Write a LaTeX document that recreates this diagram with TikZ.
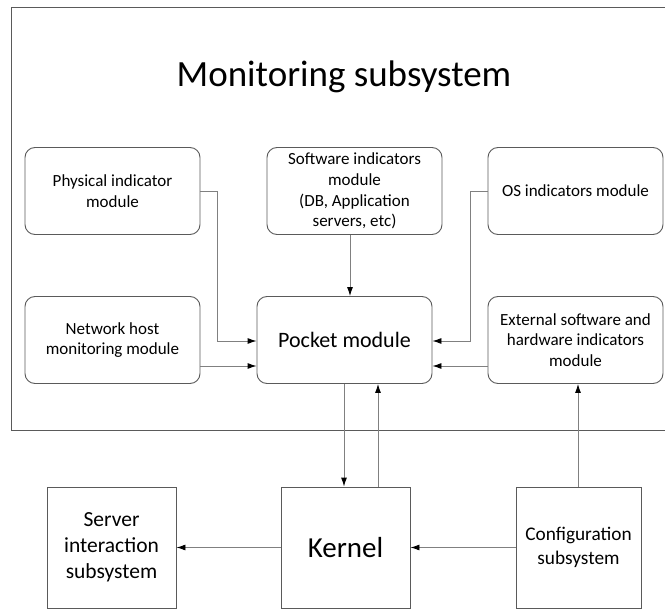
\documentclass[tikz,border=0pt]{standalone}
\usepackage{fontspec}
\setmainfont{Carlito}
\usetikzlibrary{arrows.meta}
\definecolor{boxgray}{HTML}{5A5A5A}
\definecolor{linegray}{HTML}{808080}
\tikzset{
  modbox/.style={draw=boxgray, line width=0.9pt, rounded corners=10pt, align=center,
    minimum width=175pt, minimum height=87pt, inner sep=2pt,
    font=\fontsize{17pt}{20.7pt}\selectfont},
  subbox/.style={draw=boxgray, line width=0.9pt, align=center,
    minimum width=129pt, minimum height=121pt, inner sep=2pt},
  arr/.style={draw=linegray, line width=0.9pt, -{Latex[length=9pt,width=6pt,black]}},
}
\begin{document}
\begin{tikzpicture}[x=1pt,y=-1pt]
\useasboundingbox (0,0) rectangle (665,613);
\draw[draw=boxgray, line width=1pt] (665,7) -- (11,7) -- (11,430) -- (665,430);
\node (title) at (344,77) {\fontsize{37pt}{44pt}\selectfont Monitoring subsystem};

\node[modbox] (phys) at (112.5,191) {Physical indicator\\module};
\node[modbox] (soft) at (354.5,191) {Software indicators\\module\\(DB, Application\\servers, etc)};
\node[modbox] (os) at (575.5,191) {OS indicators module};
\node[modbox] (net) at (112.5,340) {Network host\\monitoring module};
\node[modbox, font=\fontsize{22pt}{26pt}\selectfont] (pocket) at (344.5,340) {Pocket module};
\node[modbox] (ext) at (575.5,340) {External software and\\hardware indicators\\module};

\node[subbox, font=\fontsize{21.5pt}{26pt}\selectfont] (server) at (111.5,547.5) {Server\\interaction\\subsystem};
\node[subbox, font=\fontsize{29pt}{34pt}\selectfont] (kernel) at (345.5,547.5) {Kernel};
\node[subbox, minimum width=125pt, font=\fontsize{19.3pt}{24pt}\selectfont] (config) at (578.5,547.5) {Configuration\\subsystem};

\draw[arr] (phys.east) -- ++(17,0) |- ([yshift=-1pt]pocket.west);
\draw[arr] ([yshift=-26pt]net.east) -- ([yshift=-26pt]pocket.west);
\draw[arr] ([xshift=-4.5pt]soft.south) -- ([xshift=5.5pt]pocket.north);
\draw[arr] (os.west) -- ++(-17,0) |- ([yshift=-1pt]pocket.east);
\draw[arr] ([yshift=-26pt]ext.west) -- ([yshift=-26pt]pocket.east);

\draw[arr] ([xshift=-0.5pt]pocket.south) -- ([xshift=-1.5pt]kernel.north);
\draw[arr] ([xshift=32.5pt]kernel.north) -- ([xshift=33.5pt]pocket.south);
\draw[arr] ([xshift=-0.5pt]config.north) -- ([xshift=2.5pt]ext.south);
\draw[arr] (kernel.west) -- (server.east);
\draw[arr] (config.west) -- (kernel.east);
\end{tikzpicture}
\end{document}
